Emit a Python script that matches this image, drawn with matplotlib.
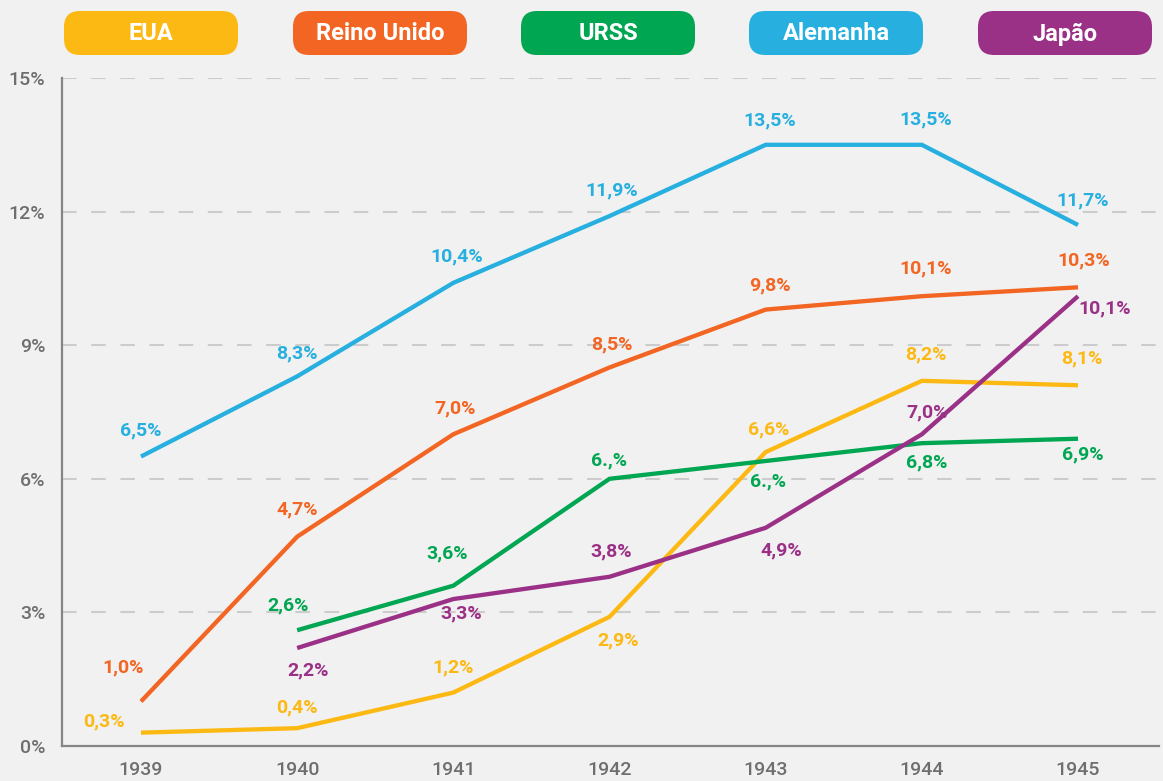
import matplotlib
matplotlib.use("Agg")
import matplotlib.pyplot as plt
from matplotlib.patches import FancyBboxPatch

# ---- data ----
years = [1939, 1940, 1941, 1942, 1943, 1944, 1945]
series_names = ["EUA", "Reino Unido", "URSS", "Alemanha", "Japão"]

eua = [0.3, 0.4, 1.2, 2.9, 6.6, 8.2, 8.1]
reino_unido = [1.0, 4.7, 7.0, 8.5, 9.8, 10.1, 10.3]
urss = [None, 2.6, 3.6, 6.0, 6.4, 6.8, 6.9]
alemanha = [6.5, 8.3, 10.4, 11.9, 13.5, 13.5, 11.7]
japao = [None, 2.2, 3.3, 3.8, 4.9, 7.0, 10.1]

eua_labels = ["0,3%", "0,4%", "1,2%", "2,9%", "6,6%", "8,2%", "8,1%"]
reino_unido_labels = ["1,0%", "4,7%", "7,0%", "8,5%", "9,8%", "10,1%", "10,3%"]
urss_labels = [None, "2,6%", "3,6%", "6.,%", "6.,%", "6,8%", "6,9%"]
alemanha_labels = ["6,5%", "8,3%", "10,4%", "11,9%", "13,5%", "13,5%", "11,7%"]
japao_labels = [None, "2,2%", "3,3%", "3,8%", "4,9%", "7,0%", "10,1%"]

y_ticks = [0, 3, 6, 9, 12, 15]
y_tick_labels = ["0%", "3%", "6%", "9%", "12%", "15%"]

# ---- styles ----
colors = ["#FDB913", "#F26522", "#00A651", "#27B0DF", "#9B3087"]
# label offsets in pixels (dx, dy)
eua_off = [(-37, 11), (0, 21), (0, 25), (9, -24), (3, 23), (4, 26), (4, 27)]
ru_off = [(-18, 34), (0, 27), (2, 26), (2, 23), (4, 24), (4, 28), (6, 27)]
urss_off = [None, (-9, 25), (-6, 32), (0, 18), (2, -20), (5, -19), (5, -16)]
al_off = [(0, 26), (0, 23), (3, 26), (2, 26), (4, 24), (4, 25), (5, 25)]
jp_off = [None, (11, -22), (8, -14), (2, 25), (16, -23), (5, 22), (27, -12)]

all_values = [eua, reino_unido, urss, alemanha, japao]
all_labels = [eua_labels, reino_unido_labels, urss_labels, alemanha_labels, japao_labels]
all_offsets = [eua_off, ru_off, urss_off, al_off, jp_off]

FONT = "Roboto"
BG = "#F1F1F1"
W, H = 1163, 781

fig = plt.figure(figsize=(W / 100, H / 100), dpi=100, facecolor=BG)
ax = fig.add_axes([62 / W, 1 - 746 / H, (1159 - 62) / W, (746 - 78) / H])
ax.set_facecolor(BG)

ax.set_xlim(1939 - 79 / 156.2, 1945 + 81 / 156.2)
ax.set_ylim(0, 15)

for yt in y_ticks[1:]:
    ax.axhline(yt, color="#CCCCCC", lw=1.5, dashes=(7, 7), zorder=1)

for vals, labs, offs, col in zip(all_values, all_labels, all_offsets, colors):
    xs = [x for x, v in zip(years, vals) if v is not None]
    ys = [v for v in vals if v is not None]
    ax.plot(xs, ys, color=col, lw=3.1, solid_capstyle="butt",
            solid_joinstyle="miter", zorder=3)
    for x, v, lab, off in zip(years, vals, labs, offs):
        if v is None:
            continue
        ax.annotate(lab, (x, v), xytext=off, textcoords="offset pixels",
                    ha="center", va="center", color=col, fontsize=14,
                    fontweight="bold", family=FONT, zorder=4)

for s in ["top", "right"]:
    ax.spines[s].set_visible(False)
for s in ["left", "bottom"]:
    ax.spines[s].set_color("#858585")
    ax.spines[s].set_linewidth(1.6)

ax.set_xticks(years)
ax.set_xticklabels([str(y) for y in years])
ax.set_yticks(y_ticks)
ax.set_yticklabels(y_tick_labels)
ax.tick_params(length=0, labelsize=14)
ax.tick_params(axis="x", pad=11)
ax.tick_params(axis="y", pad=12)
for t in ax.get_xticklabels() + ax.get_yticklabels():
    t.set_family(FONT)
    t.set_fontweight("medium")
    t.set_color("#6E6E6E")

# legend pills (pixel coordinates)
centers = [151, 380, 608, 836, 1065]
bw, bh = 174, 44
for name, col, cx in zip(series_names, colors, centers):
    y0 = H - 55
    p = FancyBboxPatch((cx - bw / 2, y0), bw, bh,
                       boxstyle="round,pad=0,rounding_size=16",
                       transform=None, facecolor=col, edgecolor="none")
    fig.patches.append(p)
    fig.text(cx / W, 1 - 34 / H, name, ha="center", va="center",
             color="white", fontsize=17, fontweight="bold", family=FONT)

fig.savefig("out.png", dpi=100, facecolor=BG)
